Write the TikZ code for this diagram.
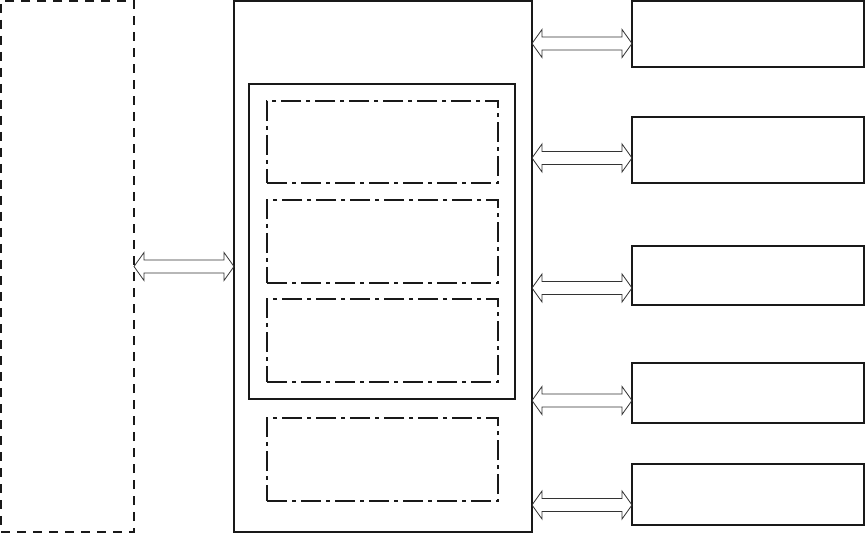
\documentclass[tikz,border=0pt]{standalone}
\usetikzlibrary{calc}

\begin{document}
\begin{tikzpicture}[
    x=1pt, y=-1pt,
    box/.style={draw=black!90, line width=1.8pt, inner sep=0pt, outer sep=0pt, anchor=north west},
    hostbox/.style={box, dash pattern=on 9pt off 7pt},
    unitbox/.style={box, dash pattern=on 20pt off 5pt on 4pt off 5pt},
    dblarrow/.style={draw=black!80, line width=0.8pt, to path={
        let \p1=(\tikztostart), \p2=(\tikztotarget) in
        (\x1,\y1) -- (\x1+10pt,\y1+14pt) -- (\x1+10pt,\y1+6.5pt) -- (\x2-10pt,\y1+6.5pt)
        -- (\x2-10pt,\y1+14pt) -- (\x2,\y1) -- (\x2-10pt,\y1-14pt) -- (\x2-10pt,\y1-6.5pt)
        -- (\x1+10pt,\y1-6.5pt) -- (\x1+10pt,\y1-14pt) -- cycle}}
]
\useasboundingbox (0,0) rectangle (866,534);

% host on the left
\node[hostbox, minimum width=133pt, minimum height=531pt] (host) at (1,1) {};

% main unit and its parts
\node[box, minimum width=298pt, minimum height=531pt] (main) at (234,1) {};
\node[box, minimum width=266pt, minimum height=315pt] (group) at (249,84) {};
\node[unitbox, minimum width=231pt, minimum height=82pt] (u1) at (267,101) {};
\node[unitbox, minimum width=231pt, minimum height=83pt] (u2) at (267,200) {};
\node[unitbox, minimum width=231pt, minimum height=83pt] (u3) at (267,299) {};
\node[unitbox, minimum width=231pt, minimum height=83pt] (u4) at (267,418) {};

% devices on the right
\node[box, minimum width=232pt, minimum height=66pt] (d1) at (632,1) {};
\node[box, minimum width=232pt, minimum height=66pt] (d2) at (632,117) {};
\node[box, minimum width=232pt, minimum height=59pt] (d3) at (632,246) {};
\node[box, minimum width=232pt, minimum height=60pt] (d4) at (632,363) {};
\node[box, minimum width=232pt, minimum height=61pt] (d5) at (632,464) {};

% links
\draw[dblarrow] (host.east) to (main.west);
\draw[dblarrow] ([yshift=23.5pt]d1.south west -| main.east) to ([yshift=23.5pt]d1.south west);
\draw[dblarrow] ([yshift=25pt]d2.south west -| main.east) to ([yshift=25pt]d2.south west);
\draw[dblarrow] ([yshift=17pt]d3.south west -| main.east) to ([yshift=17pt]d3.south west);
\draw[dblarrow] ([yshift=22.5pt]d4.south west -| main.east) to ([yshift=22.5pt]d4.south west);
\draw[dblarrow] ([yshift=20pt]d5.south west -| main.east) to ([yshift=20pt]d5.south west);

\end{tikzpicture}
\end{document}
